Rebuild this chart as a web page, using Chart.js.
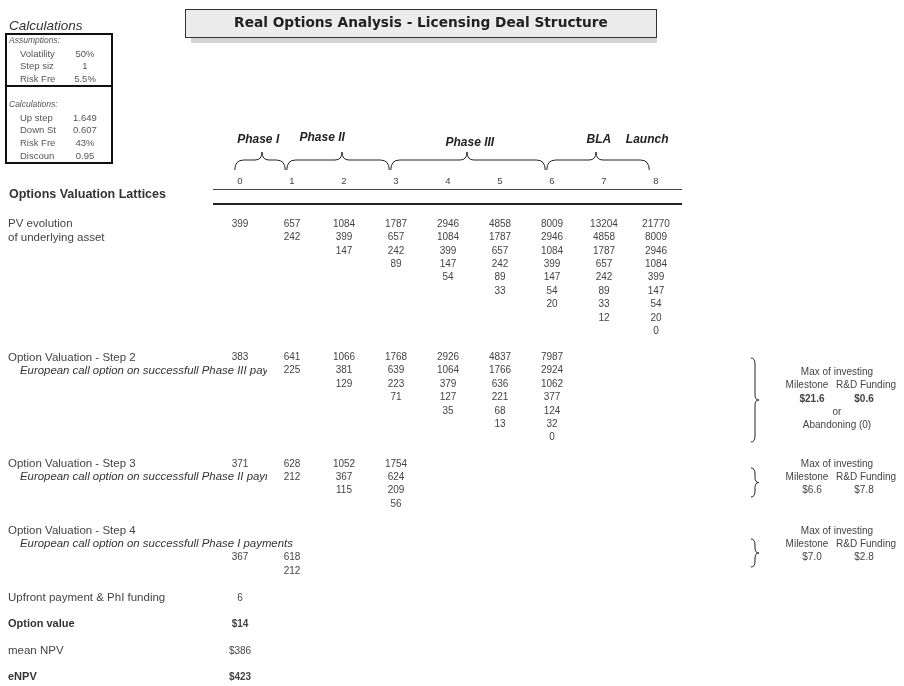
<!DOCTYPE html>
<html>
<head>
<meta charset="utf-8">
<script src="https://cdn.jsdelivr.net/npm/chart.js@4/dist/chart.umd.min.js"></script>
<style>html,body{margin:0;padding:0;background:#fff}canvas{display:block}</style>
</head>
<body>
<canvas id="grafica_lattices" width="904" height="686"></canvas>
<script>
// columns of the lattice (time steps)
const steps = [0, 1, 2, 3, 4, 5, 6, 7, 8];
const phaseNames = ['Phase I', 'Phase II', 'Phase III', 'BLA'];
const phaseStart = [0, 1, 3, 6];
const phaseEnd = [1, 3, 6, 8];

const assumptionLabels = ['Volatility', 'Step siz', 'Risk Fre'];
const assumptionValues = ['50%', '1', '5.5%'];
const calcLabels = ['Up step', 'Down St', 'Risk Fre', 'Discoun'];
const calcValues = ['1.649', '0.607', '43%', '0.95'];

const pvEvolution = [
  [399],
  [657, 242],
  [1084, 399, 147],
  [1787, 657, 242, 89],
  [2946, 1084, 399, 147, 54],
  [4858, 1787, 657, 242, 89, 33],
  [8009, 2946, 1084, 399, 147, 54, 20],
  [13204, 4858, 1787, 657, 242, 89, 33, 12],
  [21770, 8009, 2946, 1084, 399, 147, 54, 20, 0]
];
const step2Values = [
  [383],
  [641, 225],
  [1066, 381, 129],
  [1768, 639, 223, 71],
  [2926, 1064, 379, 127, 35],
  [4837, 1766, 636, 221, 68, 13],
  [7987, 2924, 1062, 377, 124, 32, 0]
];
const step3Values = [
  [371],
  [628, 212],
  [1052, 367, 115],
  [1754, 624, 209, 56]
];
const step4Values = [
  [367],
  [618, 212]
];

const upfrontFunding = 6;
const optionValue = 14;
const meanNPV = 386;
const eNPV = 423;

const milestoneValues = [21.6, 6.6, 7.0];
const rdFundingValues = [0.6, 7.8, 2.8];

// layout of the sheet in scale units (column = step, row = text line)
const ROW0 = 224, ROWH = 13.4, COL0 = 240, COLW = 52;
const blockStart = { pv: 0, s2: 9.95, s3: 17.9, s4: 24.9 };
const summaryRows = [27.9, 29.85, 31.85, 33.8];

function latticePoints(lattice, start) {
  const pts = [];
  lattice.forEach((col, s) => col.forEach((v, j) => pts.push({ x: steps[s], y: start + j, v: String(v) })));
  return pts;
}

const numFont = '10px "Liberation Sans", Arial, sans-serif';
const boldNum = 'bold 10px "Liberation Sans", Arial, sans-serif';
const datasets = [
  { data: latticePoints(pvEvolution, blockStart.pv), font: numFont },
  { data: latticePoints(step2Values, blockStart.s2), font: numFont },
  { data: latticePoints(step3Values, blockStart.s3), font: numFont },
  { data: latticePoints(step4Values, blockStart.s4), font: numFont },
  { data: [
      { x: 0, y: summaryRows[0], v: String(upfrontFunding) },
      { x: 0, y: summaryRows[2], v: '$' + meanNPV }
    ], font: numFont },
  { data: [
      { x: 0, y: summaryRows[1], v: '$' + optionValue },
      { x: 0, y: summaryRows[3], v: '$' + eNPV }
    ], font: boldNum },
  { data: [
      { x: 11, y: 13.05, v: '$' + milestoneValues[0].toFixed(1) },
      { x: 12, y: 13.05, v: '$' + rdFundingValues[0].toFixed(1) }
    ], font: boldNum },
  { data: [
      { x: 11, y: 19.85, v: '$' + milestoneValues[1].toFixed(1) },
      { x: 12, y: 19.85, v: '$' + rdFundingValues[1].toFixed(1) },
      { x: 11, y: 24.9, v: '$' + milestoneValues[2].toFixed(1) },
      { x: 12, y: 24.9, v: '$' + rdFundingValues[2].toFixed(1) }
    ], font: numFont }
].map(d => Object.assign(d, { type: 'scatter', pointRadius: 0, showLine: false }));

function text(ctx, s, x, y, font, color, align) {
  ctx.font = font;
  ctx.fillStyle = color || '#444';
  ctx.textAlign = align || 'left';
  ctx.textBaseline = 'middle';
  ctx.fillText(s, x, y);
}

function hBrace(ctx, x0, x1, xm, yb) {
  ctx.beginPath();
  ctx.moveTo(x0, yb + 10);
  ctx.quadraticCurveTo(x0, yb, x0 + 9, yb);
  ctx.lineTo(xm - 7, yb);
  ctx.quadraticCurveTo(xm, yb, xm, yb - 8);
  ctx.quadraticCurveTo(xm, yb, xm + 7, yb);
  ctx.lineTo(x1 - 9, yb);
  ctx.quadraticCurveTo(x1, yb, x1, yb + 10);
  ctx.stroke();
}

function vBrace(ctx, xl, y0, y1) {
  const ym = (y0 + y1) / 2, xs = xl + 4;
  ctx.beginPath();
  ctx.moveTo(xl, y0);
  ctx.quadraticCurveTo(xs, y0, xs, y0 + 6);
  ctx.lineTo(xs, ym - 5);
  ctx.quadraticCurveTo(xs, ym, xs + 4, ym);
  ctx.quadraticCurveTo(xs, ym, xs, ym + 5);
  ctx.lineTo(xs, y1 - 6);
  ctx.quadraticCurveTo(xs, y1, xl, y1);
  ctx.stroke();
}

const sheetPlugin = {
  id: 'sheet',
  beforeDraw(chart) {
    const ctx = chart.ctx;
    ctx.save();
    ctx.fillStyle = '#fff';
    ctx.fillRect(0, 0, chart.width, chart.height);
    ctx.restore();
  },
  afterDatasetsDraw(chart) {
    const ctx = chart.ctx;
    const xs = chart.scales.x, ys = chart.scales.y;
    const px = v => xs.getPixelForValue(v);
    const py = v => ys.getPixelForValue(v);
    ctx.save();

    // lattice cells
    chart.data.datasets.forEach((ds, i) => {
      chart.getDatasetMeta(i).data.forEach((pt, j) => {
        text(ctx, ds.data[j].v, pt.x, pt.y, ds.font, '#444', 'center');
      });
    });

    const f = (w, s, st) => (st || '') + ' ' + (w || '') + ' ' + s + 'px "Liberation Sans", Arial, sans-serif';

    // title box
    ctx.fillStyle = '#d4d4d4';
    ctx.fillRect(191, 37, 466, 6);
    ctx.fillStyle = '#ececec';
    ctx.fillRect(185, 9, 471, 28);
    ctx.strokeStyle = '#333';
    ctx.lineWidth = 1;
    ctx.strokeRect(185.5, 9.5, 471, 28);
    const title = 'Real Options Analysis - Licensing Deal Structure';
    ctx.font = 'bold 14px "DejaVu Sans", Verdana, sans-serif';
    const tw = ctx.measureText(title).width;
    const ts = 14 * 374 / tw;
    text(ctx, title, 421, 23, 'bold ' + ts.toFixed(2) + 'px "DejaVu Sans", Verdana, sans-serif', '#222', 'center');

    // calculations box
    text(ctx, 'Calculations', 9, 26, f('', 13.5, 'italic'), '#333');
    ctx.strokeStyle = '#111';
    ctx.lineWidth = 2;
    ctx.strokeRect(6, 34, 106, 129);
    ctx.beginPath();
    ctx.moveTo(6, 86); ctx.lineTo(112, 86);
    ctx.stroke();
    text(ctx, 'Assumptions:', 9, 41, f('', 8.5, 'italic'), '#555');
    assumptionLabels.forEach((l, i) => {
      text(ctx, l, 20, 54 + i * 12.8, f('', 9.5), '#555');
      text(ctx, assumptionValues[i], 85, 54 + i * 12.8, f('', 9.5), '#555', 'center');
    });
    text(ctx, 'Calculations:', 9, 105, f('', 8.5, 'italic'), '#555');
    calcLabels.forEach((l, i) => {
      text(ctx, l, 20, 118 + i * 12.7, f('', 9.5), '#555');
      text(ctx, calcValues[i], 85, 118 + i * 12.7, f('', 9.5), '#555', 'center');
    });

    // phases and braces
    ctx.strokeStyle = '#222';
    ctx.lineWidth = 1;
    const phaseLabelX = [0.35, 1.58, 4.42, 6.9];
    const phaseLabelY = [140, 138, 143, 140];
    phaseNames.forEach((n, i) => {
      text(ctx, n, px(phaseLabelX[i]), phaseLabelY[i], f('bold', 12, 'italic'), '#222', 'center');
      const a = px(phaseStart[i] - 0.1), b = px(phaseEnd[i] - 0.13);
      const tip = [262, 342, 467, 596][i];
      hBrace(ctx, a, b, tip, 160);
    });
    text(ctx, 'Launch', px(7.83), 140, f('bold', 12, 'italic'), '#222', 'center');

    // step header
    steps.forEach(s => text(ctx, String(s), px(s), 181, f('', 9.5), '#444', 'center'));
    ctx.strokeStyle = '#444';
    ctx.lineWidth = 1;
    ctx.beginPath();
    ctx.moveTo(213, 189.5); ctx.lineTo(682, 189.5);
    ctx.stroke();
    ctx.lineWidth = 2;
    ctx.strokeStyle = '#222';
    ctx.beginPath();
    ctx.moveTo(213, 204); ctx.lineTo(682, 204);
    ctx.stroke();

    text(ctx, 'Options Valuation Lattices', 9, 195, f('bold', 12.5), '#333');

    // row labels
    const lab = f('', 11.5), ital = f('', 11.4, 'italic');
    text(ctx, 'PV evolution', 8, py(blockStart.pv), lab, '#444');
    text(ctx, 'of underlying asset', 8, py(blockStart.pv + 1), lab, '#444');
    text(ctx, 'Option Valuation - Step 2', 8, py(blockStart.s2), lab, '#444');
    text(ctx, 'Option Valuation - Step 3', 8, py(blockStart.s3), lab, '#444');
    ctx.save();
    ctx.beginPath(); ctx.rect(0, 0, 267, 686); ctx.clip();
    text(ctx, 'European call option on successfull Phase III payments', 20, py(blockStart.s2 + 1), ital, '#333');
    text(ctx, 'European call option on successfull Phase II payments', 20, py(blockStart.s3 + 1), ital, '#333');
    ctx.restore();
    text(ctx, 'Option Valuation - Step 4', 8, py(blockStart.s4 - 2), lab, '#444');
    text(ctx, 'European call option on successfull Phase I payments', 20, py(blockStart.s4 - 1), ital, '#333');
    text(ctx, 'Upfront payment & PhI funding', 8, py(summaryRows[0]), lab, '#444');
    text(ctx, 'Option value', 8, py(summaryRows[1]), f('bold', 11), '#333');
    text(ctx, 'mean NPV', 8, py(summaryRows[2]), lab, '#444');
    text(ctx, 'eNPV', 8, py(summaryRows[3]), f('bold', 11), '#333');

    // decision notes on the right
    ctx.strokeStyle = '#222';
    ctx.lineWidth = 1;
    vBrace(ctx, 751, 358, 442);
    vBrace(ctx, 751, 468, 497);
    vBrace(ctx, 751, 539, 567);
    const note = f('', 10);
    [[372, 385.5], [464, 477], [531, 544]].forEach(([a, b]) => {
      text(ctx, 'Max of investing', 837, a, note, '#444', 'center');
      text(ctx, 'Milestone', 807, b, note, '#444', 'center');
      text(ctx, 'R&D Funding', 866, b, note, '#444', 'center');
    });
    text(ctx, 'or', 837, 412, note, '#444', 'center');
    text(ctx, 'Abandoning (0)', 837, 425, note, '#444', 'center');

    ctx.restore();
  }
};

const ctx = document.getElementById('grafica_lattices').getContext('2d');
new Chart(ctx, {
  type: 'scatter',
  data: { datasets: datasets },
  options: {
    responsive: false,
    animation: false,
    events: [],
    layout: { padding: 0 },
    plugins: { legend: { display: false }, tooltip: { enabled: false } },
    scales: {
      x: { type: 'linear', display: false, min: -COL0 / COLW, max: (904 - COL0) / COLW },
      y: { type: 'linear', display: false, reverse: true, min: -ROW0 / ROWH, max: (686 - ROW0) / ROWH }
    }
  },
  plugins: [sheetPlugin]
});
</script>
</body>
</html>
